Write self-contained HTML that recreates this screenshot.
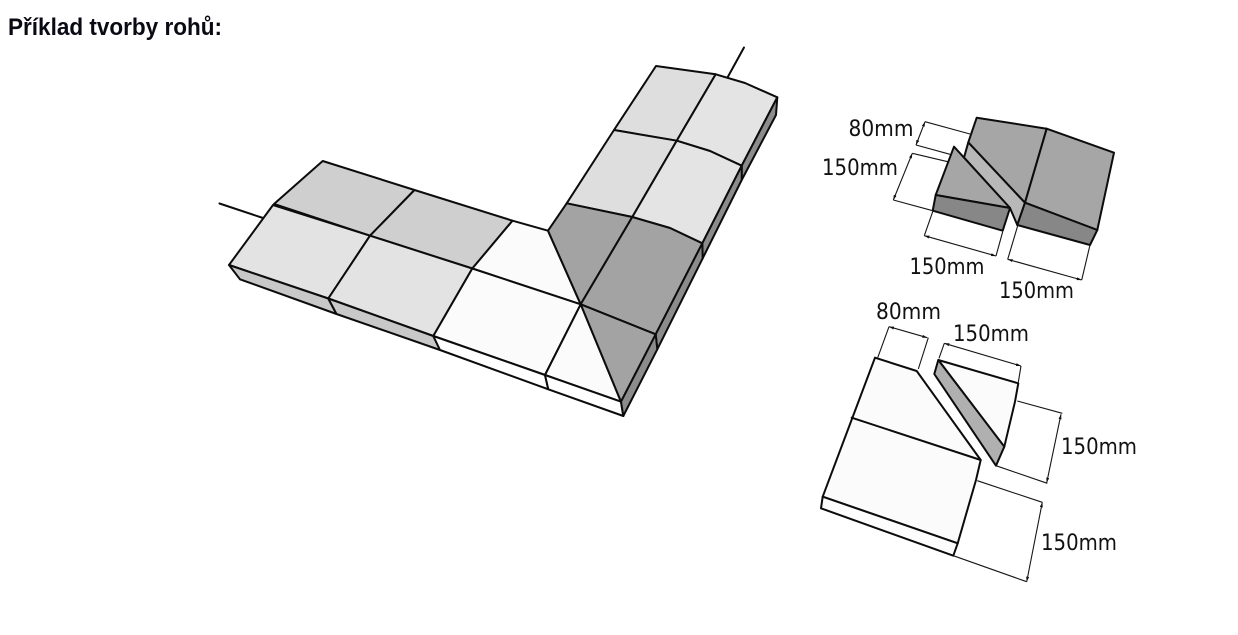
<!DOCTYPE html>
<html lang="cs">
<head>
<meta charset="utf-8">
<title>Příklad tvorby rohů</title>
<style>
html,body{margin:0;padding:0;background:#fff;width:1238px;height:635px;overflow:hidden}
svg{display:block;position:absolute;left:0;top:0}
.s polygon,.s polyline,.s line{stroke:#0c0c0c;stroke-width:2;stroke-linejoin:round;stroke-linecap:round}
.d line{stroke:#161616;stroke-width:1.1}
.d line.a{marker-start:url(#ah);marker-end:url(#ah)}
.t text{font-family:"DejaVu Sans",sans-serif;font-size:22px;fill:#111}
</style>
</head>
<body>
<svg width="1238" height="635" viewBox="0 0 1238 635" xmlns="http://www.w3.org/2000/svg">
<defs>
<marker id="ah" viewBox="0 0 5 3" refX="5" refY="1.5" markerUnits="userSpaceOnUse" markerWidth="5" markerHeight="3" orient="auto-start-reverse">
<path d="M0 0 L5 1.5 L0 3 Z" fill="#111"/>
</marker>
</defs>
<text x="8" y="35" font-family="Liberation Sans, sans-serif" font-size="24" font-weight="bold" fill="#0a0a14" textLength="214" lengthAdjust="spacingAndGlyphs">Příklad tvorby rohů:</text>

<g class="s">
<line x1="219.5" y1="203.5" x2="263" y2="218"/>
<line x1="744" y1="47.5" x2="727.5" y2="77.5"/>

<!-- left arm back slope -->
<polygon fill="#cfcfcf" points="322.7,161 414.5,190 370,235.7 274,204"/>
<polygon fill="#cfcfcf" points="414.5,190 512.5,220.7 472.3,268.5 370,235.7"/>
<!-- left arm front slope -->
<polygon fill="#e3e3e3" points="273,205 370,235.7 328.3,298.5 229,265"/>
<polygon fill="#e3e3e3" points="370,235.7 472.3,268.5 433.3,336 328.3,298.5"/>
<!-- left arm side -->
<polygon fill="#c8c8c8" points="229,265 328.3,298.5 336.5,314 240,279.3"/>
<polygon fill="#c8c8c8" points="328.3,298.5 433.3,336 440,350 336.5,314"/>
<!-- white corner pieces -->
<polygon fill="#fbfbfb" points="512.5,220.7 548,230.7 580.7,304.3 472.3,268.5"/>
<polygon fill="#fbfbfb" points="472.3,268.5 580.7,304.3 545,375 433.3,336"/>
<polygon fill="#fbfbfb" points="580.7,304.3 621,401.7 545,375"/>
<polygon fill="#ffffff" points="433.3,336 545,375 548.3,389.3 440,350"/>
<polygon fill="#ffffff" points="545,375 621,401.7 623.3,416 548.3,389.3"/>
<!-- right arm upper -->
<polygon fill="#dedede" points="656,66 715.7,74.3 676.7,140.7 614,130"/>
<polygon fill="#dedede" points="614,130 676.7,140.7 632.3,217 566.7,203.3"/>
<polygon fill="#e5e4e4" points="715.7,74.3 745,83 777.3,97.3 741.7,165.7 710,151 676.7,140.7"/>
<polygon fill="#e5e4e4" points="676.7,140.7 710,151 741.7,165.7 702.3,243.3 670,228 632.3,217"/>
<!-- dark corner pieces -->
<polygon fill="#a3a3a3" points="566.7,203.3 632.3,217 580.7,304.3 548,230.7"/>
<polygon fill="#a3a3a3" points="632.3,217 670,228 702.3,243.3 655.7,334.3 580.7,304.3"/>
<polygon fill="#a3a3a3" points="580.7,304.3 655.7,334.3 621,401.7"/>
<!-- right side -->
<polygon fill="#8c8c8c" points="777.3,97.3 776,115 741.7,180 741.7,165.7"/>
<polygon fill="#8c8c8c" points="741.7,165.7 741.7,180 702.7,258.3 702.3,243.3"/>
<polygon fill="#8c8c8c" points="702.3,243.3 702.7,258.3 657.3,349.3 655.7,334.3"/>
<polygon fill="#8c8c8c" points="655.7,334.3 657.3,349.3 623.3,416 621,401.7"/>

<!-- upper detail -->
<polygon fill="#b8b8b8" points="968.3,142.3 1025,202.7 1017.3,225 1010,208 964,157.6"/>
<polygon fill="#a6a6a6" points="976.7,117.7 1046.7,128.7 1025,202.7 968.3,142.3"/>
<polygon fill="#a6a6a6" points="1046.7,128.7 1114,152.7 1097.3,230 1025,202.7"/>
<polygon fill="#878787" points="1025,202.7 1097.3,230 1090,245 1017.3,225"/>
<polygon fill="#a6a6a6" points="954,146.7 1010,208 935.7,195"/>
<polygon fill="#878787" points="935.7,195 1010,208 1002.7,230.7 932.7,210.7"/>

<!-- lower detail -->
<polygon fill="#fbfbfb" points="875,357.7 916.7,371 980.7,460 976,480 957.7,543.3 822.7,496.7"/>
<line x1="851.7" y1="417.7" x2="980.7" y2="460"/>
<polygon fill="#fdfdfd" points="822.7,496.7 957.7,543.3 953.3,555.7 821,508.3"/>
<polygon fill="#fbfbfb" points="938.3,360 1018.3,383.3 1015,401.7 1004.3,446.7"/>
<polygon fill="#b0b0b0" points="938.3,360 1004.3,446.7 996,465.7 934.3,374"/>
</g>

<g class="d">
<!-- upper dims -->
<line x1="970" y1="134" x2="925" y2="121.7"/><line x1="950" y1="154.3" x2="916" y2="145"/><line class="a" x1="925" y1="121.7" x2="916" y2="145"/>
<line x1="947.7" y1="161.7" x2="912.3" y2="153.3"/><line x1="932.7" y1="210.7" x2="893.3" y2="200"/><line class="a" x1="912.3" y1="153.3" x2="893.3" y2="200"/>
<line x1="932.7" y1="211.7" x2="924.3" y2="235.7"/><line x1="1002.7" y1="231.7" x2="996" y2="256"/><line class="a" x1="924.3" y1="235.7" x2="996" y2="256"/>
<line x1="1017.7" y1="225.7" x2="1007.7" y2="259.3"/><line x1="1090" y1="245" x2="1081.7" y2="280"/><line class="a" x1="1007.7" y1="259.3" x2="1081.7" y2="280"/>
<!-- lower dims -->
<line x1="877.7" y1="357.7" x2="889" y2="326.7"/><line x1="918.3" y1="369" x2="928.3" y2="337.7"/><line class="a" x1="889" y1="326.7" x2="927.3" y2="337.7"/>
<line x1="939" y1="358.3" x2="944.3" y2="343.3"/><line x1="1018.3" y1="382.3" x2="1021" y2="366"/><line class="a" x1="944.3" y1="343.3" x2="1021" y2="366"/>
<line x1="1017.3" y1="401" x2="1062.3" y2="413.3"/><line x1="996" y1="465.7" x2="1047.3" y2="483.3"/><line class="a" x1="1061" y1="414.3" x2="1046.7" y2="482.7"/>
<line x1="977.3" y1="480.7" x2="1042.3" y2="502.3"/><line x1="953.3" y1="555.7" x2="1026.7" y2="581.7"/><line class="a" x1="1042.3" y1="502.3" x2="1026.7" y2="581.7"/>
</g>

<g class="t">
<text x="848.5" y="136" textLength="65" lengthAdjust="spacingAndGlyphs">80mm</text>
<text x="822" y="175" textLength="76" lengthAdjust="spacingAndGlyphs">150mm</text>
<text x="909.5" y="274" textLength="75" lengthAdjust="spacingAndGlyphs">150mm</text>
<text x="999" y="298" textLength="75" lengthAdjust="spacingAndGlyphs">150mm</text>
<text x="876" y="319" textLength="65" lengthAdjust="spacingAndGlyphs">80mm</text>
<text x="953" y="341" textLength="76" lengthAdjust="spacingAndGlyphs">150mm</text>
<text x="1061" y="454" textLength="76" lengthAdjust="spacingAndGlyphs">150mm</text>
<text x="1041" y="550" textLength="76" lengthAdjust="spacingAndGlyphs">150mm</text>
</g>
</svg>
</body>
</html>
